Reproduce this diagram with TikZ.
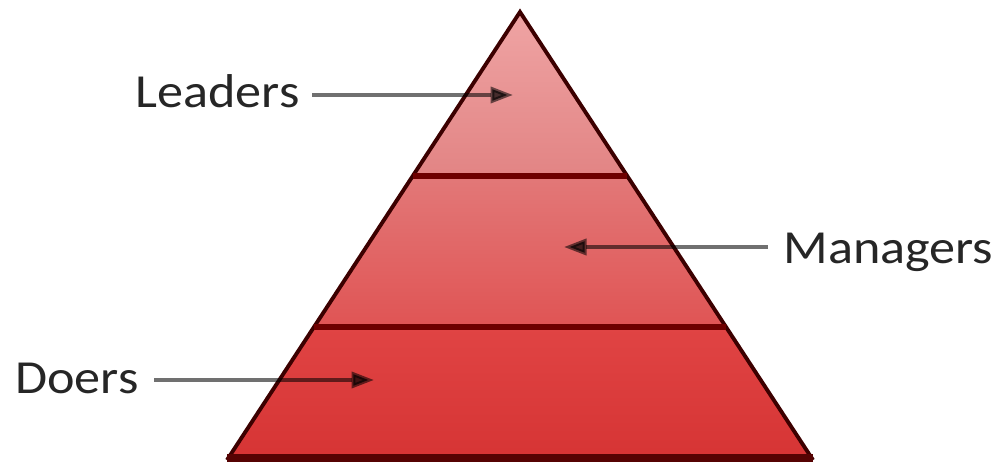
\documentclass[tikz,border=0pt]{standalone}
\usepackage{fontspec}
\setmainfont{Carlito}
\usetikzlibrary{positioning,arrows.meta,calc}
\definecolor{tieronetop}{HTML}{EFA4A4}
\definecolor{tieronebot}{HTML}{E28484}
\definecolor{tiertwotop}{HTML}{E27878}
\definecolor{tiertwobot}{HTML}{E05454}
\definecolor{tierthreetop}{HTML}{E04444}
\definecolor{tierthreebot}{HTML}{D63434}
\definecolor{edgered}{HTML}{3C0000}
\definecolor{cutred}{HTML}{6E0000}
\definecolor{basered}{HTML}{560303}
\definecolor{tagtext}{HTML}{262626}
\tikzset{
    > = {Triangle[length=4.5mm,width=3.2mm]},
    tag/.style = {
        font = \fontsize{27}{30}\selectfont,
        text = tagtext,
        inner sep = 0pt,
        xscale = 1.1,
        transform shape
    },
    pointer/.style = {
        ->,
        line width = 2.2pt,
        draw = black,
        draw opacity = 0.56,
        fill opacity = 0.7
    },
    rim/.style = {
        draw = edgered,
        line width = 2.2pt,
        line join = miter
    },
    cut/.style = {
        draw = cutred,
        line width = 3.2pt
    }
}
\begin{document}
\begin{tikzpicture}
    \useasboundingbox (0,0) rectangle (20.02,9.4);
    % pyramid corners
    \coordinate (apex) at (10.4,9.16);
    \coordinate (bl) at (4.54,0.2);
    \coordinate (br) at (16.26,0.2);
    \coordinate (l1) at ($(apex)!0.366!(bl)$);
    \coordinate (r1) at ($(apex)!0.366!(br)$);
    \coordinate (l2) at ($(apex)!0.703!(bl)$);
    \coordinate (r2) at ($(apex)!0.703!(br)$);
    % tiers
    \shade[top color=tieronetop, bottom color=tieronebot] (apex) -- (r1) -- (l1) -- cycle;
    \shade[top color=tiertwotop, bottom color=tiertwobot] (l1) -- (r1) -- (r2) -- (l2) -- cycle;
    \shade[top color=tierthreetop, bottom color=tierthreebot] (l2) -- (r2) -- (br) -- (bl) -- cycle;
    \draw[rim] (bl) -- (apex) -- (br);
    \draw[cut] (l1) -- (r1);
    \draw[cut] (l2) -- (r2);
    \draw[draw=basered, line width=4pt] ([yshift=0.04cm]bl) -- ([yshift=0.04cm]br);
    %labels
    \node[tag, anchor=base east] (leaders) at (6.0,7.26) {Leaders};
    \node[tag, anchor=base west] (managers) at (15.66,4.14) {Managers};
    \node[tag, anchor=base west] (doers) at (0.3,1.54) {Doers};
    % arrow tips
    \coordinate (leaders-tip) at (10.26,7.5);
    \coordinate (managers-tip) at (11.28,4.46);
    \coordinate (doers-tip) at (7.48,1.8);
    \draw[pointer] ([xshift=2.4mm]leaders.east |- leaders-tip) -- (leaders-tip);
    \draw[pointer] ([xshift=-3mm]managers.west |- managers-tip) -- (managers-tip);
    \draw[pointer] ([xshift=3mm]doers.east |- doers-tip) -- (doers-tip);
\end{tikzpicture}
\end{document}
